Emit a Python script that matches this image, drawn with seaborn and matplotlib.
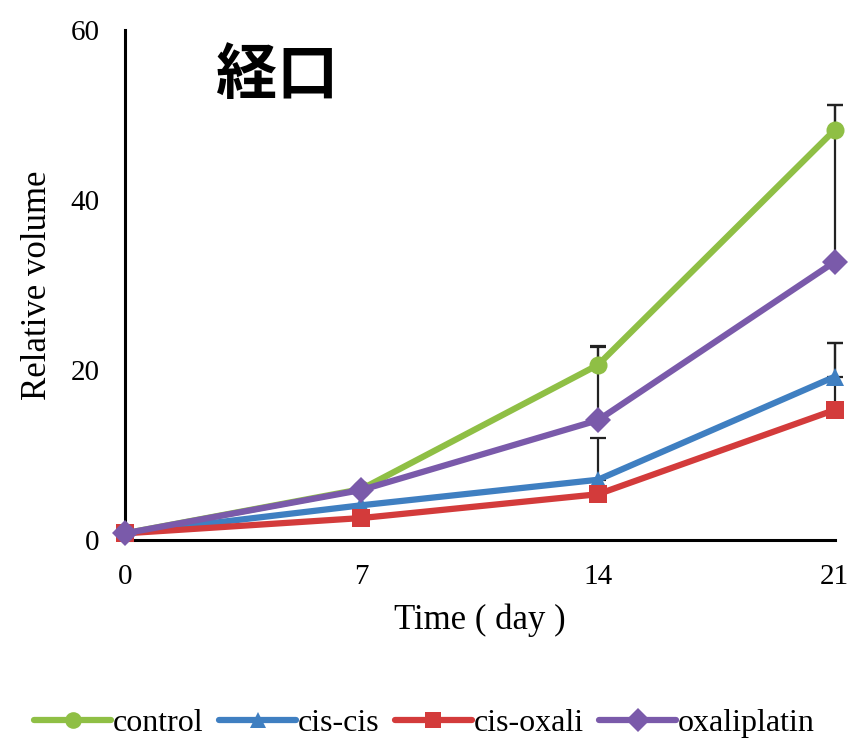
import numpy as np
import pandas as pd
import matplotlib
matplotlib.use("Agg")
import matplotlib.pyplot as plt
import seaborn as sns

# Tumour growth data
days = [0, 7, 14, 21]
groups = ["control", "cis-cis", "cis-oxali", "oxaliplatin"]
control = [0.8, 6.0, 20.6, 48.2]
cis_cis = [0.8, 4.1, 7.1, 19.2]
cis_oxali = [0.8, 2.6, 5.4, 15.3]
oxaliplatin = [0.8, 5.9, 14.1, 32.7]
# upper error (SD) for each group
control_err = [0, 0, 2.2, 3.0]
cis_cis_err = [0, 0, 4.9, 4.0]
cis_oxali_err = [0, 0, 0, 7.9]
oxaliplatin_err = [0, 0, 8.6, 18.5]

values = [control, cis_cis, cis_oxali, oxaliplatin]
errors = [control_err, cis_cis_err, cis_oxali_err, oxaliplatin_err]
colors = ["#8fbf45", "#3f7fc1", "#d33b3b", "#7a5aaa"]
markers = ["o", "^", "s", "D"]

df = pd.DataFrame({
    "day": days * len(groups),
    "value": sum(values, []),
    "group": np.repeat(groups, len(days)),
})

sns.set_style("white")
plt.rcParams["font.family"] = ["Liberation Serif", "DejaVu Serif"]
plt.rcParams["text.color"] = "black"
plt.rcParams["axes.labelcolor"] = "black"

fig = plt.figure(figsize=(8.49, 7.43), dpi=100)
ax = fig.add_axes([0.147, 0.273, 0.836, 0.687])

# error bars first, drawn underneath the lines
for g, v, e in zip(groups, values, errors):
    up = np.array(e, dtype=float)
    mask = up > 0
    ax.errorbar(np.array(days)[mask], np.array(v)[mask],
                yerr=[np.zeros(mask.sum()), up[mask]],
                fmt="none", ecolor="#222222", elinewidth=1.6, capsize=6,
                capthick=1.6, zorder=1, clip_on=False)

sns.lineplot(data=df, x="day", y="value", hue="group", style="group",
             hue_order=groups, style_order=groups,
             palette=colors, markers=markers, dashes=False,
             linewidth=4.5, markersize=13, markeredgewidth=0,
             ax=ax, legend=False, clip_on=False, zorder=3)

ax.set_xlim(0, 21)
ax.set_ylim(0, 60)
ax.set_xticks(days)
ax.set_yticks([0, 20, 40, 60])
ax.tick_params(axis="both", direction="in", length=8, width=1.6,
               labelsize=21, colors="black", labelcolor="black")
ax.tick_params(axis="x", pad=17)
ax.tick_params(axis="y", pad=18)
for s in ["top", "right"]:
    ax.spines[s].set_visible(False)
for s in ["left", "bottom"]:
    ax.spines[s].set_color("black")
    ax.spines[s].set_linewidth(2.2)
ax.set_xlabel("Time ( day )", fontsize=25, labelpad=10, color="black")
ax.set_ylabel("Relative volume", fontsize=25, labelpad=12, color="black")
ax.grid(False)

ax.text(0.128, 0.908, "経口", transform=ax.transAxes, fontsize=44,
        fontweight="bold", color="black",
        family=["Noto Sans CJK JP", "DejaVu Sans"],
        va="center", ha="left")

handles = [plt.Line2D([], [], color=c, marker=m, linewidth=4.5,
                      markersize=12, markeredgewidth=0)
           for c, m in zip(colors, markers)]
leg = fig.legend(handles, groups, loc="center", bbox_to_anchor=(0.5, 0.026),
                 ncol=4, frameon=False, fontsize=23, handlelength=2.4,
                 handletextpad=0.05, columnspacing=0.5)
for t in leg.get_texts():
    t.set_color("black")

fig.savefig("out.png", dpi=100, facecolor="white")
